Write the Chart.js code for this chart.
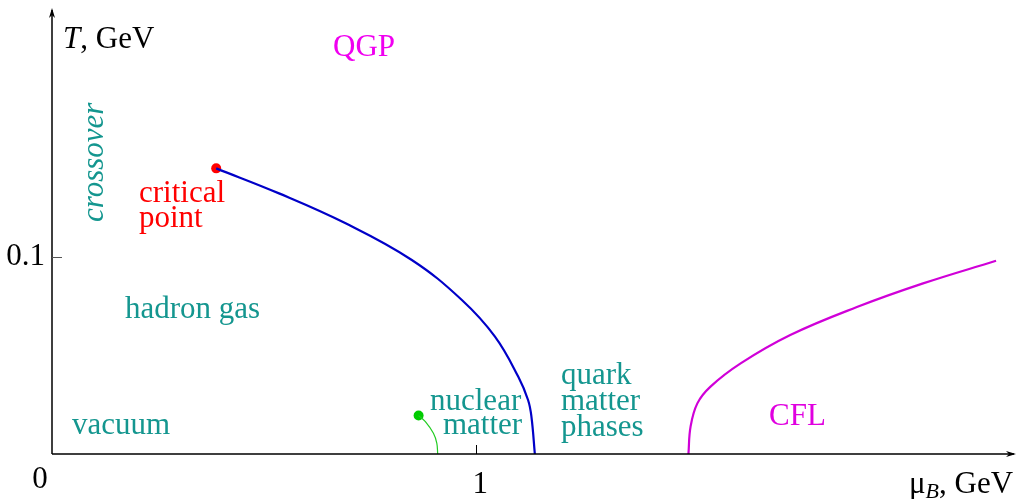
<!DOCTYPE html>
<html>
<head>
<meta charset="utf-8">
<script src="https://cdn.jsdelivr.net/npm/chart.js@4/dist/chart.umd.min.js"></script>
<style>
  body { margin: 0; background: #fff; }
  #wrap { width: 1021px; height: 499px; }
</style>
</head>
<body>
<div id="wrap"><canvas id="phase" width="1021" height="499"></canvas></div>
<script>
// mu_B (GeV) and T (GeV)
const firstOrderMu = [0.387, 0.535, 0.692, 0.848, 0.966, 1.044, 1.099, 1.122, 1.130, 1.138];
const firstOrderT  = [0.1450, 0.1323, 0.1171, 0.0985, 0.0782, 0.0596, 0.0392, 0.0274, 0.0189, 0.0];

const nuclearMu = [0.864, 0.880, 0.899, 0.907, 0.909];
const nuclearT  = [0.0195, 0.0164, 0.0105, 0.0054, 0.0];

const cflMu = [1.500, 1.505, 1.521, 1.552, 1.623, 1.740, 1.897, 2.053, 2.225];
const cflT  = [0.0, 0.0139, 0.0257, 0.0342, 0.0460, 0.0604, 0.0746, 0.0866, 0.0981];

const criticalPoint = [0.387, 0.1450];
const nuclearPoint = [0.864, 0.0195];

const xTicks = [1];
const yTicks = [0.1];
const xMax = 2.272;
const yMax = 0.2264;

const TEAL = '#14968f';
const serif = '"Liberation Serif", "DejaVu Serif", serif';
const FONT = 31;

function pts(xs, ys) {
  return xs.map((x, i) => ({ x: x, y: ys[i] }));
}

// region labels (pixel anchors, left/baseline)
const labels = [
  { text: 'QGP', x: 333, y: 56, color: '#f000f0' },
  { text: 'critical', x: 139, y: 202, color: '#ff0000' },
  { text: 'point', x: 139, y: 227, color: '#ff0000' },
  { text: 'hadron gas', x: 125, y: 318, color: TEAL },
  { text: 'vacuum', x: 72, y: 434, color: TEAL },
  { text: 'nuclear', x: 430, y: 410, color: TEAL },
  { text: 'matter', x: 443, y: 434, color: TEAL },
  { text: 'quark', x: 561, y: 384, color: TEAL },
  { text: 'matter', x: 561, y: 410, color: TEAL },
  { text: 'phases', x: 561, y: 436, color: TEAL },
  { text: 'CFL', x: 769, y: 425, color: '#e000e0' },
];

const axesPlugin = {
  id: 'axesPlugin',
  afterDraw(chart) {
    const ctx = chart.ctx;
    const xs = chart.scales.x, ys = chart.scales.y;
    const x0 = xs.getPixelForValue(0), y0 = ys.getPixelForValue(0);
    const xEnd = xs.getPixelForValue(xMax), yEnd = ys.getPixelForValue(yMax);
    ctx.save();
    ctx.strokeStyle = '#000';
    ctx.fillStyle = '#000';
    ctx.lineWidth = 1.5;
    ctx.beginPath();
    ctx.moveTo(x0, y0); ctx.lineTo(xEnd - 2, y0);
    ctx.moveTo(x0, y0); ctx.lineTo(x0, yEnd + 2);
    ctx.stroke();
    // arrow heads
    ctx.beginPath();
    ctx.moveTo(xEnd, y0); ctx.lineTo(xEnd - 10, y0 - 3); ctx.lineTo(xEnd - 7, y0); ctx.lineTo(xEnd - 10, y0 + 3);
    ctx.closePath(); ctx.fill();
    ctx.beginPath();
    ctx.moveTo(x0, yEnd); ctx.lineTo(x0 - 3, yEnd + 10); ctx.lineTo(x0, yEnd + 7); ctx.lineTo(x0 + 3, yEnd + 10);
    ctx.closePath(); ctx.fill();

    // ticks
    ctx.lineWidth = 1;
    ctx.strokeStyle = '#555';
    yTicks.forEach(v => {
      const p = Math.round(ys.getPixelForValue(v)) + 0.5;
      ctx.beginPath(); ctx.moveTo(x0, p); ctx.lineTo(x0 + 10, p); ctx.stroke();
    });
    ctx.strokeStyle = '#000';
    xTicks.forEach(v => {
      const p = Math.round(xs.getPixelForValue(v)) + 0.5;
      ctx.beginPath(); ctx.moveTo(p, y0); ctx.lineTo(p, y0 - 9); ctx.stroke();
    });

    ctx.font = FONT + 'px ' + serif;
    ctx.textBaseline = 'alphabetic';
    ctx.textAlign = 'right';
    yTicks.forEach(v => ctx.fillText(String(v), x0 - 7, ys.getPixelForValue(v) + 8));
    ctx.textAlign = 'center';
    xTicks.forEach(v => ctx.fillText(String(v), xs.getPixelForValue(v) + 4, y0 + 39));
    ctx.fillText('0', x0 - 12, y0 + 34);

    // axis titles
    ctx.textAlign = 'left';
    ctx.font = 'italic ' + FONT + 'px ' + serif;
    ctx.fillText('T', 63, 48);
    let w = ctx.measureText('T').width;
    ctx.font = FONT + 'px ' + serif;
    ctx.fillText(', GeV', 63 + w, 48);

    let mx = 909;
    ctx.fillText('\u03bc', mx, 493);
    mx += ctx.measureText('\u03bc').width;
    ctx.font = 'italic 22px ' + serif;
    ctx.fillText('B', mx, 498);
    mx += ctx.measureText('B').width;
    ctx.font = FONT + 'px ' + serif;
    ctx.fillText(', GeV', mx, 493);

    // region labels
    labels.forEach(l => {
      ctx.fillStyle = l.color;
      ctx.fillText(l.text, l.x, l.y);
    });

    ctx.save();
    ctx.translate(103, 222);
    ctx.rotate(-Math.PI / 2);
    ctx.font = 'italic ' + FONT + 'px ' + serif;
    ctx.fillStyle = TEAL;
    ctx.fillText('crossover', 0, 0);
    ctx.restore();

    ctx.restore();
  }
};

new Chart(document.getElementById('phase').getContext('2d'), {
  type: 'scatter',
  data: {
    datasets: [
      {
        label: 'first order',
        data: pts(firstOrderMu, firstOrderT),
        showLine: true,
        borderColor: '#0000c8',
        borderWidth: 2.2,
        pointRadius: 0,
        tension: 0.4
      },
      {
        label: 'nuclear',
        data: pts(nuclearMu, nuclearT),
        showLine: true,
        borderColor: '#22cc22',
        borderWidth: 1.2,
        pointRadius: 0,
        tension: 0.4
      },
      {
        label: 'CFL',
        data: pts(cflMu, cflT),
        showLine: true,
        borderColor: '#d000d8',
        borderWidth: 2.2,
        pointRadius: 0,
        tension: 0.4
      },
      {
        label: 'critical point',
        data: [{ x: criticalPoint[0], y: criticalPoint[1] }],
        pointRadius: 5,
        pointBackgroundColor: '#ff0000',
        pointBorderWidth: 0
      },
      {
        label: 'nuclear point',
        data: [{ x: nuclearPoint[0], y: nuclearPoint[1] }],
        pointRadius: 5,
        pointBackgroundColor: '#00cc00',
        pointBorderWidth: 0
      }
    ]
  },
  options: {
    responsive: false,
    animation: false,
    layout: { padding: { left: 52, right: 1, top: 8, bottom: 45 } },
    plugins: { legend: { display: false }, tooltip: { enabled: false } },
    scales: {
      x: { type: 'linear', min: 0, max: xMax, display: false },
      y: { type: 'linear', min: 0, max: yMax, display: false }
    }
  },
  plugins: [axesPlugin]
});
</script>
</body>
</html>
